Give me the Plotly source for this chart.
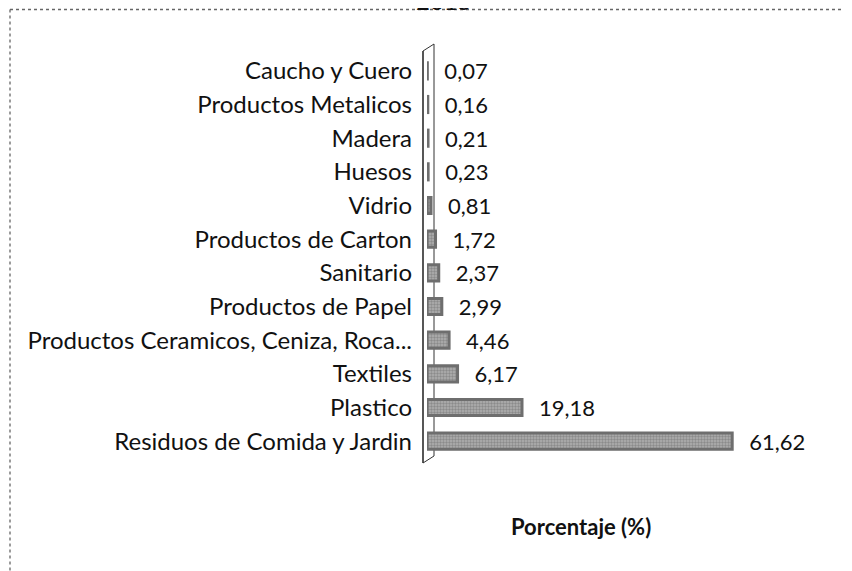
import plotly.graph_objects as go

# data (bottom to top as drawn)
categories = [
    "Residuos de Comida y Jardin", "Plastico", "Textiles",
    "Productos Ceramicos, Ceniza, Roca...", "Productos de Papel", "Sanitario",
    "Productos de Carton", "Vidrio", "Huesos", "Madera",
    "Productos Metalicos", "Caucho y Cuero",
]
values = [61.62, 19.18, 6.17, 4.46, 2.99, 2.37, 1.72, 0.81, 0.23, 0.21, 0.16, 0.07]
labels = ["\u00a0\u00a0\u2009" + f"{v:.2f}".replace(".", ",") for v in values]

W, H = 852, 571
L, R, T, B = 419, 12, 46, 121


def px(x):
    return (x - L) / (W - L - R)


def py(y):
    return (H - B - y) / (H - T - B)


FONT = "Lato"

fig = go.Figure()
fig.add_trace(go.Bar(
    y=categories, x=values, orientation="h",
    text=labels, textposition="outside", cliponaxis=False,
    constraintext="none",
    textfont=dict(family=FONT, size=22, color="#111"),
    marker=dict(
        color="#a0a0a0",
        line=dict(color="#6e6e6e", width=3),
        pattern=dict(shape=".", size=3, solidity=0.5,
                     fgcolor="#666666", bgcolor="#b0b0b0"),
    ),
    width=0.48,
))

# 3d back wall
wall = (f"M {px(415)},{py(43)} L {px(426)},{py(36)} L {px(426)},{py(448)} "
        f"L {px(415)},{py(455)} Z")
shapes = [
    dict(type="path", path=wall, xref="paper", yref="paper",
         line=dict(color="#333", width=1), fillcolor="white", layer="below"),
    dict(type="line", xref="paper", yref="paper", x0=px(415), x1=px(415),
         y0=py(43), y1=py(455), line=dict(color="#333", width=1.3)),
    # scanned frame
    dict(type="line", xref="paper", yref="paper", x0=px(2), x1=px(2),
         y0=py(1.5), y1=py(571), line=dict(color="#666", width=1.3, dash="dot")),
    dict(type="line", xref="paper", yref="paper", x0=px(2), x1=px(852),
         y0=py(1.5), y1=py(1.5), line=dict(color="#666", width=1.3, dash="dot")),
]

fig.update_layout(
    width=W, height=H,
    margin=dict(l=L, r=R, t=T, b=B),
    paper_bgcolor="white", plot_bgcolor="white",
    showlegend=False,
    shapes=shapes,
    font=dict(family=FONT, size=24, color="#111"),
    annotations=[
        dict(text="2015", xref="paper", yref="paper", x=px(436), y=py(9),
             xanchor="center", yanchor="bottom", showarrow=False,
             font=dict(family=FONT, size=24, color="#111")),
        dict(text="<b>Porcentaje (%)</b>", xref="paper", yref="paper",
             x=px(573), y=py(518), xanchor="center", yanchor="middle",
             showarrow=False, font=dict(family=FONT, size=22, color="#111")),
    ],
)
fig.update_xaxes(range=[0, 85], visible=False)
fig.update_yaxes(showline=False, showgrid=False, ticks="", ticklabelstandoff=14,
                 tickfont=dict(family=FONT, size=24, color="#111"))

fig.write_html("out.html")
